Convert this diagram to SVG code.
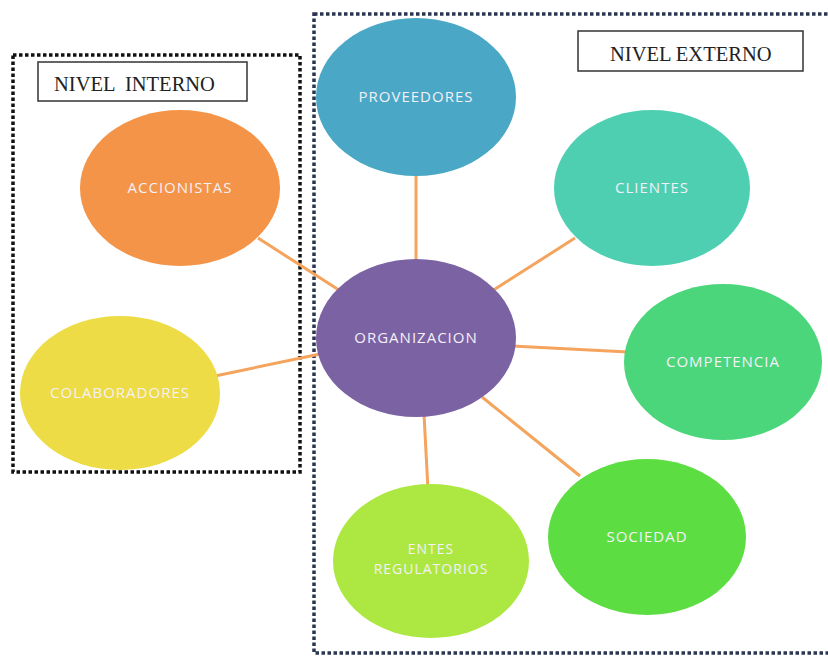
<svg xmlns="http://www.w3.org/2000/svg" width="828" height="658" viewBox="0 0 828 658">
<style>
.lbl{font-family:"Liberation Serif","Times New Roman",serif;font-size:20.5px;fill:#222}
.nt{font-family:"Open Sans","Liberation Sans",sans-serif;font-size:15px;letter-spacing:1px;fill:#f4f0f8;text-anchor:middle}
.conn line{stroke:#F4A45C;stroke-width:3}
.frame{fill:none;stroke-width:3.5;stroke-dasharray:3.5 2.5}
</style>
<rect width="828" height="658" fill="#fff"/>
<rect class="frame" x="314" y="14" width="520" height="639" stroke="#2a3550"/>
<rect class="frame" x="13" y="55" width="287" height="417" stroke="#111"/>
<g id="lbl-interno"><rect x="38" y="62" width="209" height="39" fill="#fff" stroke="#333" stroke-width="1.5"/><text class="lbl" x="54" y="91" xml:space="preserve">NIVEL  INTERNO</text></g>
<g id="lbl-externo"><rect x="578" y="31" width="225" height="40" fill="#fff" stroke="#333" stroke-width="1.5"/><text class="lbl" x="610" y="61">NIVEL EXTERNO</text></g>
<g class="conn" id="connectors">
<line x1="416" y1="170" x2="416" y2="265"/>
<line x1="575" y1="238" x2="492" y2="291"/>
<line x1="258" y1="238" x2="342" y2="292"/>
<line x1="215" y1="376" x2="320" y2="354"/>
<line x1="628" y1="352" x2="512" y2="346"/>
<line x1="580" y1="476" x2="482" y2="397"/>
<line x1="428" y1="490" x2="424" y2="414"/>
</g>
<g id="proveedores"><ellipse cx="416" cy="97" rx="100" ry="79" fill="#4AA8C6"/><text class="nt" x="416" y="102">PROVEEDORES</text></g>
<g id="clientes"><ellipse cx="652" cy="188" rx="98" ry="78" fill="#4ECFB2"/><text class="nt" x="652" y="193">CLIENTES</text></g>
<g id="accionistas"><ellipse cx="180" cy="188" rx="100" ry="78" fill="#F39448"/><text class="nt" x="180" y="193">ACCIONISTAS</text></g>
<g id="organizacion"><ellipse cx="416" cy="338" rx="100" ry="79" fill="#7B62A3"/><text class="nt" x="416" y="343">ORGANIZACION</text></g>
<g id="colaboradores"><ellipse cx="120" cy="393" rx="100" ry="77" fill="#EDDC45"/><text class="nt" x="120" y="398">COLABORADORES</text></g>
<g id="competencia"><ellipse cx="723" cy="362" rx="99" ry="78" fill="#4CD67C"/><text class="nt" x="723" y="367">COMPETENCIA</text></g>
<g id="sociedad"><ellipse cx="647" cy="537" rx="99" ry="78" fill="#5CDE42"/><text class="nt" x="647" y="542">SOCIEDAD</text></g>
<g id="entes"><ellipse cx="431" cy="561" rx="98" ry="77" fill="#ADE842"/><text class="nt" style="font-size:14px" x="431" y="554"><tspan x="431" y="554">ENTES</tspan><tspan x="431" y="574">REGULATORIOS</tspan></text></g>
</svg>
